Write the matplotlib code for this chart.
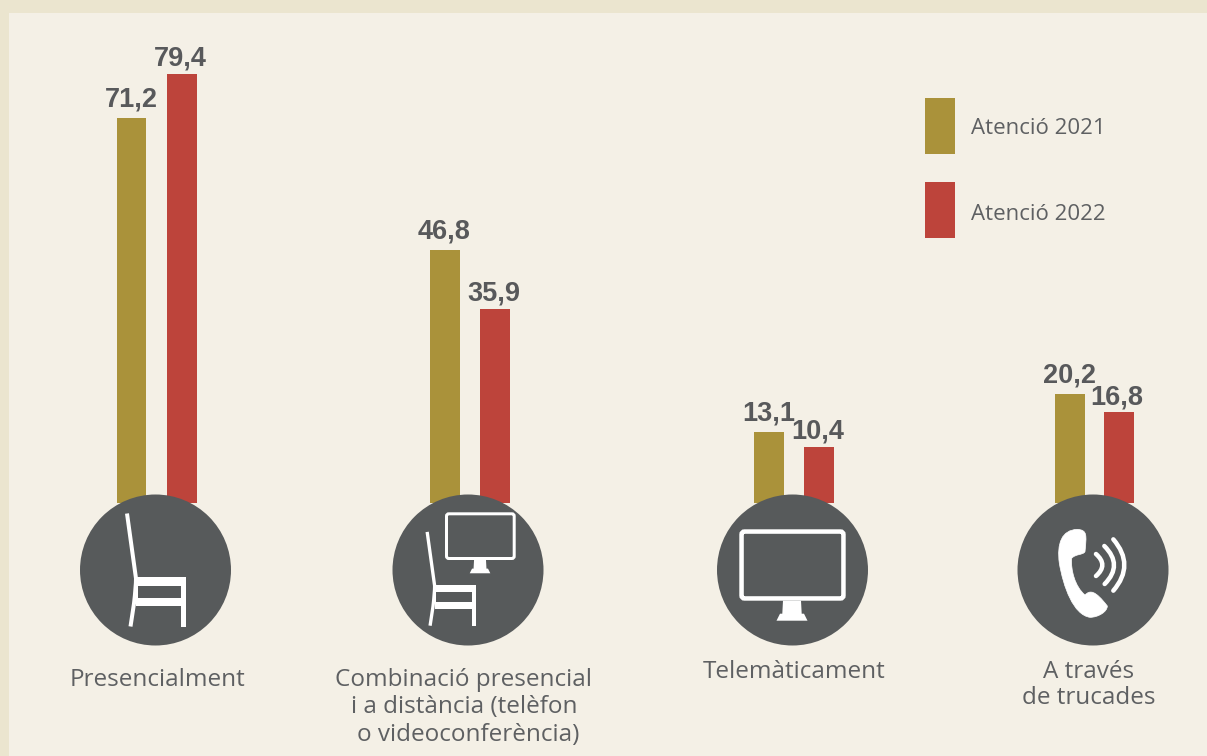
"""Atenció 2021 / 2022: barres amb icones."""
import matplotlib
matplotlib.use("Agg")
import matplotlib.pyplot as plt
from matplotlib.patches import Circle, FancyBboxPatch, PathPatch, Polygon, Rectangle
from matplotlib.path import Path

W, H = 1207, 756

# dades
values_2021 = [71.2, 46.8, 13.1, 20.2]
values_2022 = [79.4, 35.9, 10.4, 16.8]
labels_2021 = ["71,2", "46,8", "13,1", "20,2"]
labels_2022 = ["79,4", "35,9", "10,4", "16,8"]
legend_names = ["Atenció 2021", "Atenció 2022"]
categories = [
    ["Presencialment"],
    ["Combinació presencial", "i a distància (telèfon", "o videoconferència)"],
    ["Telemàticament"],
    ["A través", "de trucades"],
]

# estil
GOLD = "#aa923a"
RED = "#bd443b"
DARK = "#575a5b"
TEXT = "#5e6062"
VALUE_TEXT = "#58595b"
OUTER = "#ebe5cf"
INNER = "#f4f0e6"
BASE_PX = 503
PX_PER_UNIT = 5.405

x_2021 = [131.5, 445, 769, 1070]
x_2022 = [182, 495, 819, 1119]
width_2021 = 29.5
width_2022 = 30
label_x_2021 = [131, 444, 769, 1069]
label_x_2022 = [180, 494, 818, 1117]
circle_x = [155.5, 468, 792.5, 1093]
CIRCLE_Y = 570
CIRCLE_R = 75.5
text_x = [[158], [463.5, 464, 468], [794], [1089, 1089]]
text_y = [[680], [680, 707, 735], [672], [672, 698]]

LABEL_FONT = ["Open Sans", "DejaVu Sans"]
VALUE_FONT = ["Liberation Sans", "DejaVu Sans"]


def lw(px):
    return px * 72 / 100


def chair(ax, left, bottom, s):
    """Cadira dibuixada des de la cantonada inferior esquerra."""
    def pt(dx, dy):
        return left + dx * s, bottom - dy * s

    # respatller i pota del davant
    back = [pt(-1, 113), pt(8, 48), pt(8, 40), pt(6, 23), pt(2.5, 0)]
    codes = [Path.MOVETO, Path.LINETO, Path.CURVE3, Path.CURVE3, Path.LINETO]
    back_path = Path(back, codes)
    ax.add_patch(PathPatch(back_path, fc="none", ec="white", lw=lw(4 * s), joinstyle="round", zorder=6))
    # seient, travesser i pota del darrere
    for dx, dy, w, h in [(8, 49.5, 49.7, 9), (8, 29, 49.7, 8.5), (53, 49.5, 4.7, 49.5), (7, 49.5, 3.2, 22)]:
        x, y = pt(dx, dy)
        ax.add_patch(Rectangle((x, y), w * s, h * s, fc="white", ec="none", zorder=6))


def monitor(ax, x0, y0, x1, y1, stroke, s):
    ax.add_patch(FancyBboxPatch((x0 + stroke / 2, y0 + stroke / 2), x1 - x0 - stroke, y1 - y0 - stroke,
                                boxstyle=f"round,pad=0,rounding_size={2 * s + 1}",
                                fc="none", ec="white", lw=lw(stroke), zorder=6))
    cx = (x0 + x1) / 2 - 0.5 * s
    stand = [(cx - 9 * s, y1), (cx + 9 * s, y1), (cx + 9.7 * s, y1 + 13 * s), (cx + 12 * s, y1 + 13 * s),
             (cx + 15.5 * s, y1 + 20 * s), (cx - 15.5 * s, y1 + 20 * s), (cx - 12 * s, y1 + 13 * s),
             (cx - 9.7 * s, y1 + 13 * s)]
    ax.add_patch(Polygon(stand, closed=True, fc="white", ec="none", zorder=6))


def phone(ax):
    def z(x, y):
        return 700 + x / 3, 480 + y / 3

    verts = [z(1132, 148), z(1162, 150), z(1160, 165), z(1155, 215),
             z(1150, 225), z(1125, 222), z(1115, 235),
             z(1112, 270), z(1125, 320), z(1155, 345),
             z(1170, 330), z(1185, 330), z(1222, 378),
             z(1222, 395), z(1195, 412), z(1170, 412),
             z(1120, 405), z(1090, 320), z(1078, 250),
             z(1070, 190), z(1085, 150), z(1132, 148)]
    codes = [Path.MOVETO] + [Path.CURVE4] * 21
    ax.add_patch(PathPatch(Path(verts, codes), fc="white", ec="white", lw=0.5, zorder=6))
    arcs = [((1188, 222), (1207, 255), (1188, 288)),
            ((1213, 198), (1242, 255), (1214, 312)),
            ((1240, 178), (1273, 255), (1240, 332))]
    for p0, mid, p2 in arcs:
        ctrl = (2 * mid[0] - (p0[0] + p2[0]) / 2, 2 * mid[1] - (p0[1] + p2[1]) / 2)
        path = Path([z(*p0), z(*ctrl), z(*p2)], [Path.MOVETO, Path.CURVE3, Path.CURVE3])
        ax.add_patch(PathPatch(path, fc="none", ec="white", lw=lw(4.5), capstyle="round", zorder=6))


fig = plt.figure(figsize=(W / 100, H / 100), dpi=100, facecolor=OUTER)

# capa de fons en píxels
bg = fig.add_axes([0, 0, 1, 1], zorder=0)
bg.set_xlim(0, W)
bg.set_ylim(H, 0)
bg.axis("off")
bg.add_patch(Rectangle((9, 13), W, H, fc=INNER, ec="none"))

# barres: l'eix Y va en les unitats de les dades
ax = fig.add_axes([0, 0, 1, 1], zorder=1)
ax.patch.set_alpha(0)
ax.set_xlim(0, W)
ax.set_ylim((BASE_PX - H) / PX_PER_UNIT, BASE_PX / PX_PER_UNIT)
ax.axis("off")
ax.bar(x_2021, values_2021, width=width_2021, color=GOLD, zorder=2)
ax.bar(x_2022, values_2022, width=width_2022, color=RED, zorder=2)
for x, v, s in zip(label_x_2021, values_2021, labels_2021):
    ax.text(x, v + 2.1, s, ha="center", va="baseline", fontsize=19.5, fontweight="bold",
            family=VALUE_FONT, color=VALUE_TEXT, zorder=3)
for x, v, s in zip(label_x_2022, values_2022, labels_2022):
    ax.text(x, v + 1.5, s, ha="center", va="baseline", fontsize=19.5, fontweight="bold",
            family=VALUE_FONT, color=VALUE_TEXT, zorder=3)

# icones i textos en píxels
top = fig.add_axes([0, 0, 1, 1], zorder=2)
top.patch.set_alpha(0)
top.set_xlim(0, W)
top.set_ylim(H, 0)
top.axis("off")
for cx in circle_x:
    top.add_patch(Circle((cx, CIRCLE_Y), CIRCLE_R, fc=DARK, ec="none", zorder=5))
chair(top, 128, 626.5, 1.0)
chair(top, 428, 625.7, 0.83)
monitor(top, 445, 512.3, 515.7, 560, 3, 0.664)
monitor(top, 739.3, 529.3, 845.7, 600.7, 4.5, 1.0)
phone(top)

for lines, xs, ys in zip(categories, text_x, text_y):
    for line, x, y in zip(lines, xs, ys):
        top.text(x, y, line, ha="center", va="center", fontsize=17.5,
                 family=LABEL_FONT, color=TEXT, zorder=7)

for name, colour, y0, ty in zip(legend_names, [GOLD, RED], [98, 182], [129, 215]):
    top.add_patch(Rectangle((925, y0), 30, 56, fc=colour, ec="none"))
    top.text(971, ty, name, ha="left", va="center", fontsize=16,
             family=LABEL_FONT, color=TEXT)

fig.savefig("out.png", dpi=100, facecolor=OUTER)
